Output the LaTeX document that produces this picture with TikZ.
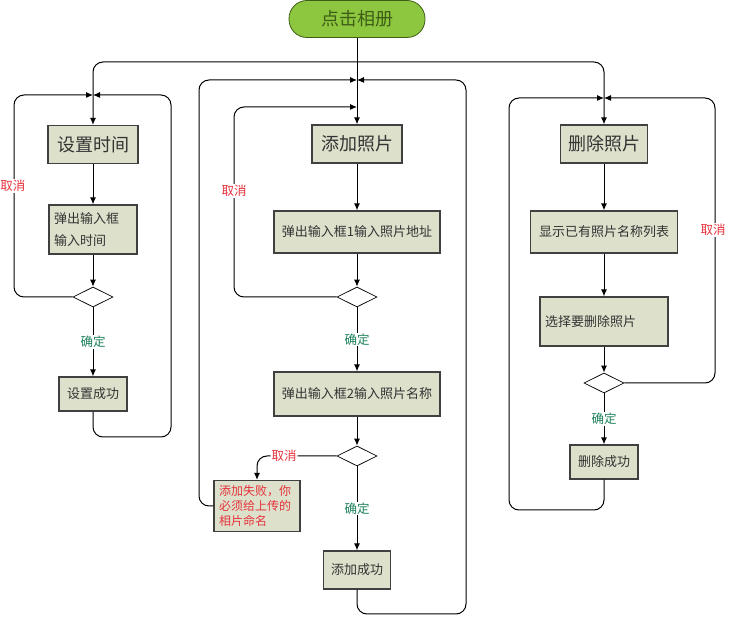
\documentclass[tikz,border=0pt]{standalone}
\usepackage{fontspec}
\setmainfont{Noto Sans CJK SC}
\usepackage{xcolor}
\usepackage{tikz}
\usetikzlibrary{arrows.meta, shapes.geometric}

\definecolor{boxfill}{RGB}{221,224,203}
\definecolor{boxline}{RGB}{64,64,64}
\definecolor{startfill}{RGB}{141,198,63}
\definecolor{startline}{RGB}{62,94,24}
\definecolor{yesgreen}{RGB}{30,130,90}
\definecolor{nored}{RGB}{230,50,60}

\begin{document}
\begin{tikzpicture}[x=1pt, y=-1pt, >={Latex[length=7pt, width=6pt]}]
		\tikzstyle{start} = [draw=startline, fill=startfill, thick, rounded corners=18pt, minimum width=136pt, minimum height=37pt, text=startline, font=\fontsize{18}{20}\selectfont]
		\tikzstyle{title} = [draw=boxline, fill=boxfill, line width=1.2pt, minimum height=38pt, text=black!80, font=\fontsize{18}{20}\selectfont]
		\tikzstyle{box} = [draw=boxline, fill=boxfill, line width=1.2pt, inner sep=5pt, text=black!80, font=\fontsize{13}{22}\selectfont]
		\tikzstyle{choice} = [draw=black, diamond, inner sep=0pt, minimum width=40pt, minimum height=20pt, line width=0.7pt]
		\tikzstyle{yes} = [fill=white, text=yesgreen, inner sep=1pt, font=\fontsize{12.5}{14}\selectfont]
		\tikzstyle{no} = [fill=white, text=nored, inner sep=1pt, font=\fontsize{12.5}{14}\selectfont]
		\tikzstyle{arrow} = [line width=1pt, ->]
		\tikzstyle{loop} = [line width=1pt, ->, rounded corners=10pt]

		\useasboundingbox (0, 0) rectangle (729, 617);

		\node[start] 	at (357, 19) 		(album) 	{点击相册};

		% set time
		\node[title, minimum width=90pt] 	at (93, 144.5) 	(time) 		{设置时间};
		\node[box, text width=78pt, minimum height=49pt, align=left] 	at (93, 229.5) 	(timein) 	{弹出输入框\\输入时间};
		\node[choice] 	at (93, 297) 		(timeok) 	{};
		\node[box, minimum width=68pt, minimum height=34pt] 	at (93, 394) 	(timedone) 	{设置成功};

		% add photo
		\node[title, minimum width=90pt] 	at (357, 144) 	(add) 		{添加照片};
		\node[box, minimum width=166pt, minimum height=42pt] 	at (357, 232) 	(addpath) 	{弹出输入框1输入照片地址};
		\node[choice] 	at (357, 297) 		(addpathok) 	{};
		\node[box, minimum width=166pt, minimum height=44pt] 	at (357, 394) 	(addname) 	{弹出输入框2输入照片名称};
		\node[choice] 	at (357, 456) 		(addnameok) 	{};
		\node[box, text width=76pt, minimum height=50pt, align=left, text=nored, font=\fontsize{12}{15}\selectfont] 	at (257, 506) 	(addfail) 	{添加失败，你\\必须给上传的\\相片命名};
		\node[box, minimum width=67pt, minimum height=38pt] 	at (357, 570) 	(adddone) 	{添加成功};

		% delete photo
		\node[title, minimum width=87pt] 	at (604, 144) 	(del) 		{删除照片};
		\node[box, minimum width=147pt, minimum height=42pt] 	at (604, 232) 	(dellist) 	{显示已有照片名称列表};
		\node[box, text width=118pt, minimum height=49pt, align=left] 	at (604, 321.5) 	(delpick) 	{选择要删除照片};
		\node[choice] 	at (604, 383) 		(delok) 	{};
		\node[box, minimum width=68pt, minimum height=34pt] 	at (604, 462) 	(deldone) 	{删除成功};

		% junctions and corners
		\coordinate (split) 	at (357, 62);
		\coordinate (timeback) 	at (93, 95);
		\coordinate (timeleft) 	at (14, 200);
		\coordinate (timeright) 	at (171, 437);
		\coordinate (addback) 	at (357, 80);
		\coordinate (addretry) 	at (357, 107);
		\coordinate (addinner) 	at (234, 200);
		\coordinate (addleft) 	at (199, 300);
		\coordinate (addright) 	at (466, 614);
		\coordinate (delback) 	at (604, 98);
		\coordinate (delright) 	at (715, 300);
		\coordinate (delleft) 	at (509, 510);

		\draw[arrow] (album) -- (add);
		\draw[loop] (split) -| (time);
		\draw[loop] (split) -| (del);

		\draw[arrow] (time) -- (timein);
		\draw[arrow] (timein) -- (timeok);
		\draw[arrow] (timeok) -- node[yes] (timeyes) {确定} (timedone);
		\draw[loop] (timeok) -| (timeleft) |- (timeback);
		\draw[loop] (timedone) |- (timeright) |- (timeback);

		\draw[arrow] (add) -- (addpath);
		\draw[arrow] (addpath) -- (addpathok);
		\draw[arrow] (addpathok) -- node[yes] (addpathyes) {确定} (addname);
		\draw[loop] (addpathok) -| (addinner) |- (addretry);
		\draw[arrow] (addname) -- (addnameok);
		\draw[arrow] (addnameok) -- node[yes] (addnameyes) {确定} (adddone);
		\draw[loop] (addnameok) -| node[no, pos=0.33] (addnameno) {取消} (addfail);
		\draw[loop] (addfail) -| (addleft) |- (addback);
		\draw[loop] (adddone) |- (addright) |- (addback);

		\draw[arrow] (del) -- (dellist);
		\draw[arrow] (dellist) -- (delpick);
		\draw[arrow] (delpick) -- (delok);
		\draw[arrow] (delok) -- node[yes] (delyes) {确定} (deldone);
		\draw[loop] (delok) -| (delright) |- (delback);
		\draw[loop] (deldone) |- (delleft) |- (delback);

		% cancel labels sit on the loop lines
		\node[no] 		at (13, 186) 		(timecancel) 	{取消};
		\node[no] 		at (234, 191) 		(addcancel) 	{取消};
		\node[no] 		at (713, 230) 		(delcancel) 	{取消};
\end{tikzpicture}
\end{document}
